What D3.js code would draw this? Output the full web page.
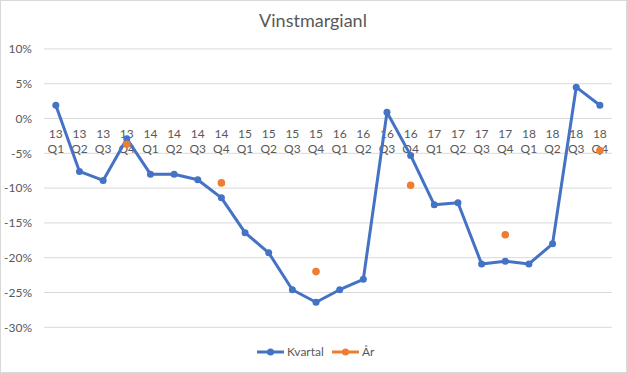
<!DOCTYPE html>
<html lang="sv">
<head>
  <meta charset="UTF-8">
  <title>Vinstmargianl</title>
  <script src="https://d3js.org/d3.v7.min.js"></script>
  <style>
    body { margin: 0; background: #fff; }
    text { font-family: Lato, 'Open Sans', sans-serif; fill: #595959; }
  </style>
</head>
<body>
  <svg width="627" height="373"></svg>

  <script>
    // data
    const categories = ["13 Q1","13 Q2","13 Q3","13 Q4","14 Q1","14 Q2","14 Q3","14 Q4",
                        "15 Q1","15 Q2","15 Q3","15 Q4","16 Q1","16 Q2","16 Q3","16 Q4",
                        "17 Q1","17 Q2","17 Q3","17 Q4","18 Q1","18 Q2","18 Q3","18 Q4"];
    const kvartal = [1.9, -7.6, -8.9, -2.9, -8.0, -8.0, -8.8, -11.4,
                     -16.4, -19.3, -24.6, -26.4, -24.6, -23.1, 0.9, -5.3,
                     -12.4, -12.1, -20.9, -20.5, -20.9, -18.0, 4.5, 1.9];
    const arCats = ["13 Q4","14 Q4","15 Q4","16 Q4","17 Q4","18 Q4"];
    const arValues = [-3.7, -9.25, -22.0, -9.6, -16.7, -4.6];
    const yTicks = [10, 5, 0, -5, -10, -15, -20, -25, -30];

    const blue = "#4472C4", orange = "#ED7D31";
    const svg = d3.select("svg");

    // outer border
    svg.append("rect")
      .attr("x", 0.5).attr("y", 0.5)
      .attr("width", 626).attr("height", 372)
      .attr("fill", "#fff").attr("stroke", "#d9d9d9");

    const x = d3.scaleBand()
      .domain(categories)
      .range([44, 611.7]);

    const y = d3.scaleLinear()
      .domain([-30, 10])
      .range([327.3, 48.9]);

    // gridlines
    svg.append("g")
      .selectAll("line")
      .data(yTicks)
      .enter().append("line")
      .attr("x1", 44).attr("x2", 611.7)
      .attr("y1", d => y(d)).attr("y2", d => y(d))
      .attr("stroke", "#d9d9d9")
      .attr("stroke-width", 1);

    // y axis labels
    svg.append("g")
      .selectAll("text")
      .data(yTicks)
      .enter().append("text")
      .attr("x", 32)
      .attr("y", d => y(d))
      .attr("dy", "0.35em")
      .attr("text-anchor", "end")
      .style("font-size", "12px")
      .text(d => d + "%");

    // category labels (two lines, at the zero line)
    const catLabels = svg.append("g")
      .selectAll("text")
      .data(categories)
      .enter().append("text")
      .attr("text-anchor", "middle")
      .style("font-size", "12px");
    catLabels.append("tspan")
      .attr("x", d => x(d) + x.bandwidth() / 2)
      .attr("y", y(0) + 19)
      .text(d => d.split(" ")[0]);
    catLabels.append("tspan")
      .attr("x", d => x(d) + x.bandwidth() / 2)
      .attr("y", y(0) + 34)
      .text(d => d.split(" ")[1]);

    const cx = c => x(c) + x.bandwidth() / 2;

    // Kvartal line
    const line = d3.line()
      .x((d, i) => cx(categories[i]))
      .y(d => y(d));

    svg.append("path")
      .datum(kvartal)
      .attr("fill", "none")
      .attr("stroke", blue)
      .attr("stroke-width", 3)
      .attr("stroke-linejoin", "round")
      .attr("d", line);

    svg.append("g")
      .selectAll("circle")
      .data(kvartal)
      .enter().append("circle")
      .attr("cx", (d, i) => cx(categories[i]))
      .attr("cy", d => y(d))
      .attr("r", 3.5)
      .attr("fill", blue);

    // År points
    svg.append("g")
      .selectAll("circle")
      .data(arValues)
      .enter().append("circle")
      .attr("cx", (d, i) => cx(arCats[i]))
      .attr("cy", d => y(d))
      .attr("r", 3.8)
      .attr("fill", orange);

    // title
    svg.append("text")
      .attr("x", 313)
      .attr("y", 27)
      .attr("text-anchor", "middle")
      .style("font-size", "18px")
      .text("Vinstmargianl");

    // legend
    const legend = svg.append("g");
    const items = [
      { name: "Kvartal", color: blue, x0: 257 },
      { name: "År", color: orange, x0: 332 }
    ];
    items.forEach(it => {
      legend.append("line")
        .attr("x1", it.x0).attr("x2", it.x0 + 27)
        .attr("y1", 352).attr("y2", 352)
        .attr("stroke", it.color).attr("stroke-width", 3);
      legend.append("circle")
        .attr("cx", it.x0 + 13.5).attr("cy", 352).attr("r", 3.5)
        .attr("fill", it.color);
      legend.append("text")
        .attr("x", it.x0 + 30).attr("y", 352)
        .attr("dy", "0.35em")
        .style("font-size", "12px")
        .text(it.name);
    });
  </script>
</body>
</html>
